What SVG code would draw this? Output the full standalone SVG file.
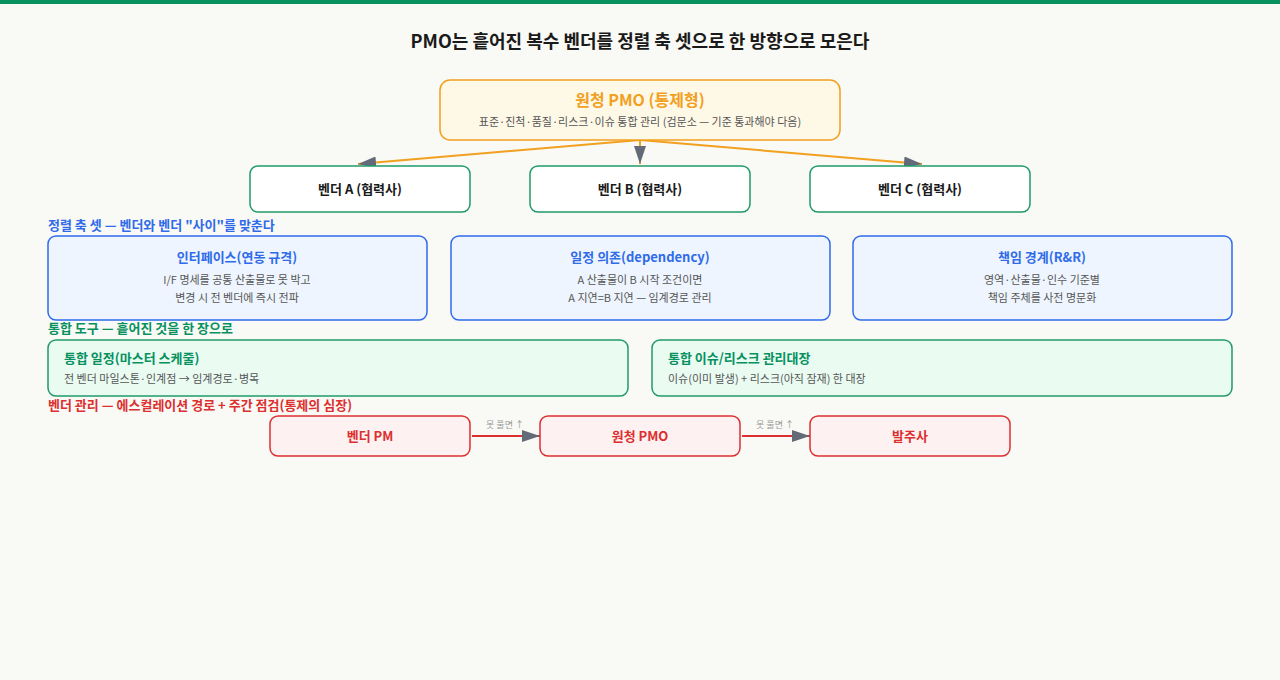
<svg xmlns="http://www.w3.org/2000/svg" width="1280" height="680" viewBox="0 0 1280 680">
<style>
text{font-family:"Noto Sans CJK KR","Noto Sans",sans-serif;text-anchor:middle}
.t{font-size:13px;font-weight:bold}
.s{font-size:11px;fill:#555}
.sec{font-size:13px;font-weight:bold;text-anchor:start}
.v{fill:#fff;stroke:#1f9a6a;stroke-width:1.5}
.b{fill:#eef5fe;stroke:#2f6bea;stroke-width:1.5}
.g{fill:#eafbf2;stroke:#1f9a6a;stroke-width:1.5}
.r{fill:#fef1f1;stroke:#dc2f2f;stroke-width:1.5}
</style>
<defs>
<marker id="ah" viewBox="0 0 10 10" refX="10" refY="5" markerWidth="7" markerHeight="7" orient="auto-start-reverse" markerUnits="userSpaceOnUse"><path d="M0,0L10,5L0,10z" fill="#646b78"/></marker>
<marker id="ah2" viewBox="0 0 10 10" refX="10" refY="5" markerWidth="18" markerHeight="12" orient="auto" markerUnits="userSpaceOnUse" preserveAspectRatio="none"><path d="M0,0L10,5L0,10z" fill="#646b78"/></marker>
</defs>
<rect width="1280" height="680" fill="#f9f9f5"/>
<rect width="1280" height="4" fill="#079160"/>
<text x="640" y="48" style="font-size:18px;font-weight:bold" fill="#1a1a1a">PMO는 흩어진 복수 벤더를 정렬 축 셋으로 한 방향으로 모은다</text>
<g id="connectors" fill="none">
<line x1="640" y1="140" x2="358" y2="164" stroke="#f2a01f" stroke-width="2" marker-end="url(#ah2)"/>
<line x1="640" y1="140" x2="640" y2="164" stroke="#f2a01f" stroke-width="2" marker-end="url(#ah2)"/>
<line x1="640" y1="140" x2="922" y2="164" stroke="#f2a01f" stroke-width="2" marker-end="url(#ah2)"/>
<line x1="472" y1="436" x2="540" y2="436" stroke="#dc2f2f" stroke-width="2" marker-end="url(#ah2)"/>
<line x1="742" y1="436" x2="810" y2="436" stroke="#dc2f2f" stroke-width="2" marker-end="url(#ah2)"/>
<text x="505" y="428" style="font-size:9px" fill="#999">못 풀면 ↑</text>
<text x="775" y="428" style="font-size:9px" fill="#999">못 풀면 ↑</text>
</g>
<g id="pmo"><rect x="440" y="80" width="400" height="60" rx="10" fill="#fef9e7" stroke="#f2a01f" stroke-width="1.5"/>
<text x="640" y="106" style="font-size:16px;font-weight:bold" fill="#f2a01f">원청 PMO (통제형)</text>
<text x="640" y="126" class="s">표준·진척·품질·리스크·이슈 통합 관리 (검문소 — 기준 통과해야 다음)</text></g>
<g id="vendorA"><rect class="v" x="250" y="166" width="220" height="46" rx="8"/><text x="360" y="194" class="t" fill="#1a1a1a">벤더 A (협력사)</text></g>
<g id="vendorB"><rect class="v" x="530" y="166" width="220" height="46" rx="8"/><text x="640" y="194" class="t" fill="#1a1a1a">벤더 B (협력사)</text></g>
<g id="vendorC"><rect class="v" x="810" y="166" width="220" height="46" rx="8"/><text x="920" y="194" class="t" fill="#1a1a1a">벤더 C (협력사)</text></g>
<text x="48" y="230" class="sec" fill="#2f6bea">정렬 축 셋 — 벤더와 벤더 "사이"를 맞춘다</text>
<g id="axis1"><rect class="b" x="48" y="236" width="379" height="84" rx="8"/><text x="237" y="262" class="t" fill="#2f6bea">인터페이스(연동 규격)</text><text x="237" y="284" class="s">I/F 명세를 공통 산출물로 못 박고</text><text x="237" y="302" class="s">변경 시 전 벤더에 즉시 전파</text></g>
<g id="axis2"><rect class="b" x="451" y="236" width="379" height="84" rx="8"/><text x="640" y="262" class="t" fill="#2f6bea">일정 의존(dependency)</text><text x="640" y="284" class="s">A 산출물이 B 시작 조건이면</text><text x="640" y="302" class="s">A 지연=B 지연 — 임계경로 관리</text></g>
<g id="axis3"><rect class="b" x="853" y="236" width="379" height="84" rx="8"/><text x="1042" y="262" class="t" fill="#2f6bea">책임 경계(R&amp;R)</text><text x="1042" y="284" class="s">영역·산출물·인수 기준별</text><text x="1042" y="302" class="s">책임 주체를 사전 명문화</text></g>
<text x="48" y="333" class="sec" fill="#079160">통합 도구 — 흩어진 것을 한 장으로</text>
<g id="tool1"><rect class="g" x="48" y="340" width="580" height="56" rx="8"/><text x="64" y="363" class="t" style="text-anchor:start" fill="#079160">통합 일정(마스터 스케줄)</text><text x="64" y="383" class="s" style="text-anchor:start">전 벤더 마일스톤·인계점 → 임계경로·병목</text></g>
<g id="tool2"><rect class="g" x="652" y="340" width="580" height="56" rx="8"/><text x="668" y="363" class="t" style="text-anchor:start" fill="#079160">통합 이슈/리스크 관리대장</text><text x="668" y="383" class="s" style="text-anchor:start">이슈(이미 발생) + 리스크(아직 잠재) 한 대장</text></g>
<text x="48" y="410" class="sec" fill="#dc2f2f">벤더 관리 — 에스컬레이션 경로 + 주간 점검(통제의 심장)</text>
<g id="vpm"><rect class="r" x="270" y="416" width="200" height="40" rx="8"/><text x="370" y="441" class="t" fill="#dc2f2f">벤더 PM</text></g>
<g id="opmo"><rect class="r" x="540" y="416" width="200" height="40" rx="8"/><text x="640" y="441" class="t" fill="#dc2f2f">원청 PMO</text></g>
<g id="client"><rect class="r" x="810" y="416" width="200" height="40" rx="8"/><text x="910" y="441" class="t" fill="#dc2f2f">발주사</text></g>
</svg>
